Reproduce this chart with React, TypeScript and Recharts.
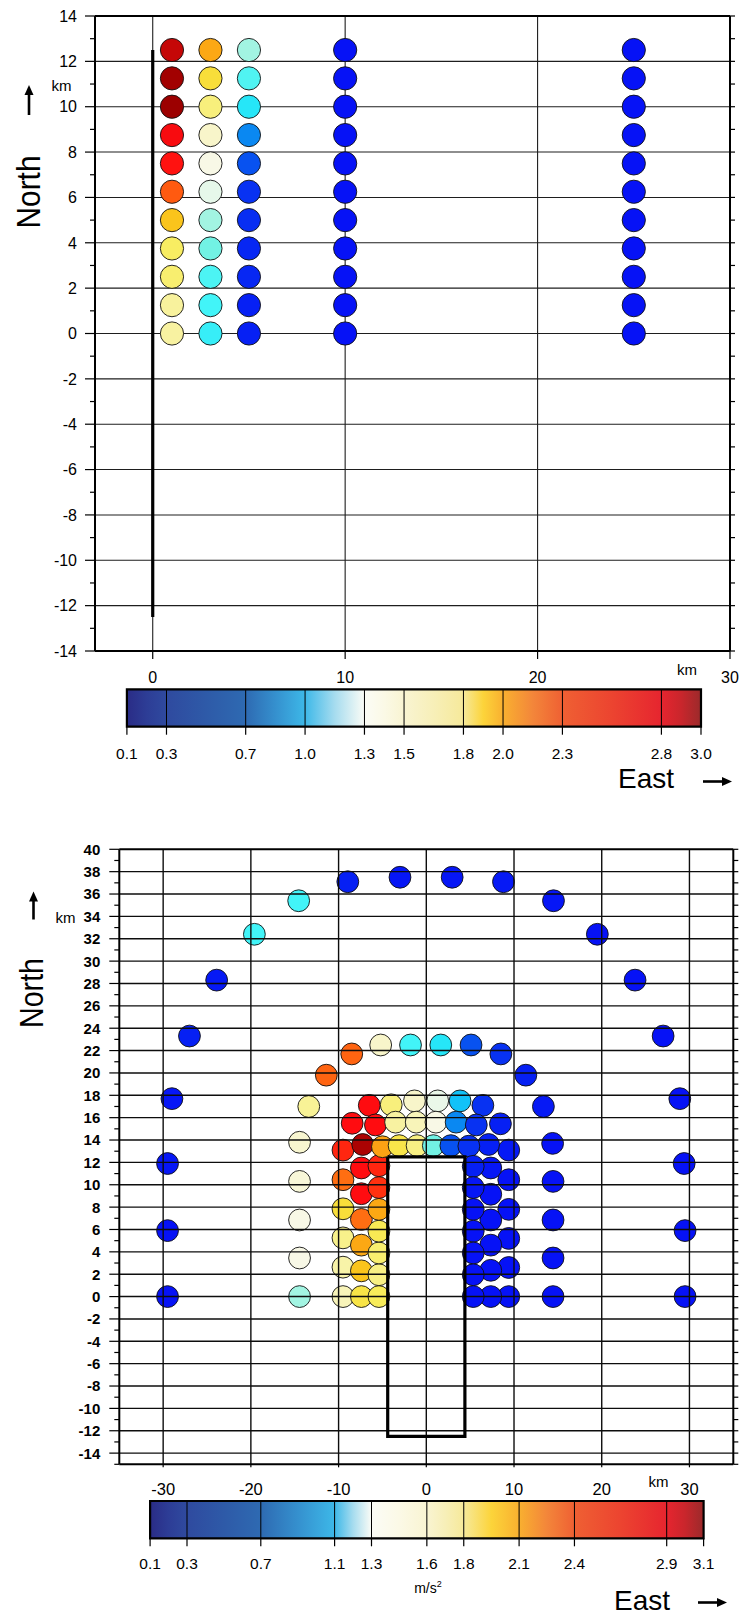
// App.tsx — PGA station maps for a strike-slip fault (two panels + colour bars)
import React from "react";
import { ScatterChart, Scatter, XAxis, YAxis, ReferenceLine, ReferenceArea } from "recharts";

const FONT = '"Liberation Sans", Arial, Helvetica, sans-serif';
const TITLE = '"Liberation Sans", "DejaVu Sans", sans-serif';

// ---------------- upper map: five profiles east of a N-S fault ----------------
const upperEast = [1, 3, 5, 10, 25];
const upperNorth = [0, 1.25, 2.5, 3.75, 5, 6.25, 7.5, 8.75, 10, 11.25, 12.5];
// PGA (m/s2) along each profile, south to north
const upperPgaE1 = [1.62, 1.63, 1.75, 1.78, 2.0, 2.4, 2.68, 2.72, 3.0, 2.98, 2.86];
const upperPgaE3 = [1.08, 1.1, 1.12, 1.2, 1.25, 1.3, 1.4, 1.5, 1.72, 1.9, 2.1];
const upperPgaE5 = [0.3, 0.3, 0.4, 0.4, 0.5, 0.55, 0.72, 0.85, 1.05, 1.13, 1.25];
const upperPgaE10 = [0.1, 0.1, 0.1, 0.1, 0.1, 0.1, 0.1, 0.1, 0.1, 0.1, 0.1];
const upperPgaE25 = [0.1, 0.1, 0.1, 0.1, 0.1, 0.1, 0.1, 0.1, 0.1, 0.1, 0.1];
const upperFaultEast = [0, 0];
const upperFaultNorth = [-12.5, 12.5];
const upperEastTicks = [0, 10, 20, 30];
const upperNorthTicks = [-14, -13, -12, -11, -10, -9, -8, -7, -6, -5, -4, -3, -2, -1, 0, 1, 2, 3, 4, 5, 6, 7, 8, 9, 10, 11, 12, 13, 14];
const upperGridNorth = [-12, -10, -8, -6, -4, -2, 0, 2, 4, 6, 8, 10, 12];
const upperGridEast = [0, 10, 20];

// ---------------- lower map: station rings around the fault ----------------
const ring1East = [-5.4, -5.4, -5.4, -5.4, -5.4, -5.4, -5.4, -5.0, -3.1, -1.05, 0.8, 2.8, 4.85, 5.35, 5.35, 5.35, 5.35, 5.35, 5.35, 5.35];
const ring1North = [0, 1.95, 3.9, 5.85, 7.8, 9.75, 11.7, 13.4, 13.5, 13.5, 13.5, 13.5, 13.45, 11.65, 9.75, 7.8, 5.85, 3.9, 1.95, 0];
const ring1Pga = [1.8, 1.7, 1.75, 1.82, 2.1, 2.58, 2.62, 2.12, 1.85, 1.7, 1.2, 0.72, 0.55, 0.3, 0.15, 0.1, 0.1, 0.1, 0.1, 0.1];

const ring3East = [-7.4, -7.4, -7.4, -7.4, -7.4, -7.4, -7.25, -5.8, -3.5, -1.15, 1.1, 3.4, 5.7, 7.1, 7.35, 7.35, 7.35, 7.35, 7.35, 7.35];
const ring3North = [0, 2.3, 4.6, 6.9, 9.2, 11.5, 13.6, 15.35, 15.6, 15.6, 15.6, 15.6, 15.35, 13.6, 11.5, 9.15, 6.85, 4.6, 2.35, 0];
const ring3Pga = [1.86, 2.0, 2.1, 2.3, 2.7, 2.7, 2.95, 2.7, 1.62, 1.55, 1.4, 0.85, 0.55, 0.3, 0.15, 0.1, 0.1, 0.1, 0.1, 0.1];

const ring5East = [-9.5, -9.5, -9.5, -9.5, -9.5, -9.5, -8.45, -6.5, -4.0, -1.35, 1.3, 3.85, 6.45, 8.45, 9.4, 9.4, 9.4, 9.4, 9.4, 9.4];
const ring5North = [0, 2.63, 5.25, 7.85, 10.45, 13.1, 15.5, 17.1, 17.15, 17.5, 17.5, 17.5, 17.1, 15.45, 13.1, 10.45, 7.8, 5.2, 2.6, 0];
const ring5Pga = [1.55, 1.6, 1.68, 1.9, 2.3, 2.62, 2.7, 2.7, 1.72, 1.5, 1.32, 1.0, 0.55, 0.3, 0.2, 0.1, 0.1, 0.1, 0.1, 0.1];

const ring10East = [-14.45, -14.45, -14.45, -14.45, -14.45, -13.4, -11.4, -8.5, -5.2, -1.8, 1.65, 5.1, 8.5, 11.35, 13.35, 14.4, 14.45, 14.45, 14.45, 14.45];
const ring10North = [0, 3.45, 6.85, 10.3, 13.8, 17.0, 19.8, 21.7, 22.5, 22.5, 22.5, 22.5, 21.7, 19.8, 17.0, 13.7, 10.3, 6.85, 3.45, 0];
const ring10Pga = [1.25, 1.4, 1.4, 1.45, 1.48, 1.65, 2.35, 2.35, 1.5, 1.1, 1.05, 0.72, 0.55, 0.3, 0.2, 0.1, 0.1, 0.1, 0.1, 0.1];

const ring25East = [-29.5, -29.5, -29.5, -29.0, -27.0, -23.9, -19.6, -14.55, -8.95, -3.0, 2.95, 8.8, 14.5, 19.5, 23.8, 27.0, 28.9, 29.4, 29.5, 29.5];
const ring25North = [0, 5.9, 11.9, 17.7, 23.3, 28.3, 32.4, 35.4, 37.1, 37.5, 37.5, 37.1, 35.4, 32.4, 28.3, 23.3, 17.7, 11.9, 5.9, 0];
const ring25Pga = [0.1, 0.1, 0.15, 0.15, 0.3, 0.2, 1.1, 1.1, 0.3, 0.15, 0.15, 0.2, 0.15, 0.1, 0.1, 0.1, 0.1, 0.1, 0.1, 0.1];

const lowerFaultEast = [-4.4, -4.4, 4.4, 4.4, -4.4];
const lowerFaultNorth = [12.5, -12.5, -12.5, 12.5, 12.5];
const lowerEastTicks = [-30, -20, -10, 0, 10, 20, 30];
const lowerNorthTicks = [-15, -14, -13, -12, -11, -10, -9, -8, -7, -6, -5, -4, -3, -2, -1, 0, 1, 2, 3, 4, 5, 6, 7, 8, 9, 10, 11, 12, 13, 14, 15, 16, 17, 18, 19, 20, 21, 22, 23, 24, 25, 26, 27, 28, 29, 30, 31, 32, 33, 34, 35, 36, 37, 38, 39, 40];
const lowerGridNorth = [-14, -12, -10, -8, -6, -4, -2, 0, 2, 4, 6, 8, 10, 12, 14, 16, 18, 20, 22, 24, 26, 28, 30, 32, 34, 36, 38];
const lowerGridEast = [-30, -20, -10, 0, 10, 20, 30];

// ---------------- colour scales ----------------
const upperBarTicks = [0.1, 0.3, 0.7, 1.0, 1.3, 1.5, 1.8, 2.0, 2.3, 2.8, 3.0];
const lowerBarTicks = [0.1, 0.3, 0.7, 1.1, 1.3, 1.6, 1.8, 2.1, 2.4, 2.9, 3.1];
// bar palette, placed by tick index (fractional)
const barStopPos = [0, 0.5, 1, 1.5, 2, 2.5, 3, 3.5, 4, 4.5, 5, 5.5, 6, 6.5, 7, 7.5, 8, 8.5, 9, 9.5, 10];
const barStopColor = ["#2A2C86", "#2D3D96", "#2F4A9F", "#2E5AA8", "#2E6AB2", "#3590CE", "#3DB8E8", "#A6DCEF", "#FBFCF6", "#FBF9E6", "#F9F4D2", "#F7EFB8", "#F6E99A", "#FCD43A", "#F9B030", "#F3863A", "#EF6033", "#EC4430", "#E6252F", "#C9262C", "#9B2A2B"];

// marker palette (value -> fill)
const dotLevels = [0.1, 0.3, 0.55, 0.72, 0.85, 1.0, 1.05, 1.1, 1.2, 1.25, 1.3, 1.4, 1.5, 1.6, 1.7, 1.8, 1.9, 2.0, 2.1, 2.3, 2.4, 2.6, 2.7, 2.85, 3.0];
const dotFills = ["#0612F6", "#0620F4", "#0832F2", "#0852F0", "#0A88F2", "#12C2F8", "#26E6F8", "#42F4F8", "#72F2E4", "#A2F4E2", "#E6F8EA", "#F8F8E6", "#F8F5CA", "#F8F3A8", "#F8F084", "#F8EC5A", "#F8DE3A", "#FAC41C", "#FCA814", "#FF6E12", "#FF5A10", "#FF2C10", "#FF0C10", "#C80808", "#9C0000"];

const rgb = (h: string) => [1, 3, 5].map((i) => parseInt(h.slice(i, i + 2), 16));
function dotColor(v: number) {
  if (v <= dotLevels[0]) return dotFills[0];
  for (let i = 1; i < dotLevels.length; i++) {
    if (v <= dotLevels[i]) {
      const t = (v - dotLevels[i - 1]) / (dotLevels[i] - dotLevels[i - 1]);
      const a = rgb(dotFills[i - 1]);
      const b = rgb(dotFills[i]);
      const c = a.map((ch, k) => Math.round(ch + (b[k] - ch) * t));
      return `rgb(${c[0]},${c[1]},${c[2]})`;
    }
  }
  return dotFills[dotFills.length - 1];
}

const upperProfiles = [upperPgaE1, upperPgaE3, upperPgaE5, upperPgaE10, upperPgaE25];
const upperStations = upperEast.flatMap((e, i) => upperNorth.map((n, j) => ({ x: e, y: n, pga: upperProfiles[i][j] })));
const upperFault = upperFaultEast.map((x, i) => ({ x, y: upperFaultNorth[i] }));

const lowerRings: number[][][] = [
  [ring25East, ring25North, ring25Pga],
  [ring10East, ring10North, ring10Pga],
  [ring5East, ring5North, ring5Pga],
  [ring3East, ring3North, ring3Pga],
  [ring1East, ring1North, ring1Pga],
];
const lowerStations = lowerRings.flatMap(([e, n, p]) => e.map((x, i) => ({ x, y: n[i], pga: p[i] })));
const lowerFault = lowerFaultEast.map((x, i) => ({ x, y: lowerFaultNorth[i] }));

// ---------------- axes ----------------
type Panel = {
  width: number;
  height: number;
  margin: { top: number; right: number; bottom: number; left: number };
  xDomain: [number, number];
  yDomain: [number, number];
  xTicks: number[];
  yTicks: number[];
  leftW: number;
  rightW: number;
  topH: number;
  bottomH: number;
  frame: number;
  xTickLen: number;
  xLabelOff: number;
  xFont: number;
  yGap: number;
  yFont: number;
  yWeight: string;
};

const upperPanel: Panel = {
  width: 744, height: 700,
  margin: { top: 7, right: 0, bottom: 9, left: 35 },
  xDomain: [-3, 30], yDomain: [-14, 14],
  xTicks: upperEastTicks, yTicks: upperNorthTicks,
  leftW: 60, rightW: 14, topH: 9, bottomH: 40,
  frame: 2, xTickLen: 8, xLabelOff: 26, xFont: 16, yGap: 18, yFont: 16, yWeight: "normal",
};

const lowerPanel: Panel = {
  width: 744, height: 700,
  margin: { top: 20.3, right: 0.7, bottom: 15.7, left: 59.3 },
  xDomain: [-35, 35], yDomain: [-15, 40],
  xTicks: lowerEastTicks, yTicks: lowerNorthTicks,
  leftW: 60, rightW: 10, topH: 9, bottomH: 40,
  frame: 2, xTickLen: 3, xLabelOff: 25, xFont: 16.5, yGap: 19, yFont: 15, yWeight: "bold",
};

const tickText = { fontFamily: FONT, fill: "#000" };

const leftTick = (p: Panel) => (props: any) => {
  const { x, y, payload } = props;
  const v = payload.value;
  const major = v % 2 === 0;
  return (
    <g>
      <line x1={x - (major ? 10 : 5)} y1={y} x2={x} y2={y} stroke="#000" strokeWidth={1.2} />
      {major && (
        <text x={x - p.yGap} y={y} dy="0.36em" textAnchor="end" fontSize={p.yFont} fontWeight={p.yWeight} {...tickText}>
          {v}
        </text>
      )}
    </g>
  );
};

const rightTick = (props: any) => (
  <line x1={props.x} y1={props.y} x2={props.x + 5} y2={props.y} stroke="#000" strokeWidth={1.2} />
);

const topTick = (props: any) => (
  <line x1={props.x} y1={props.y - 9} x2={props.x} y2={props.y} stroke="#000" strokeWidth={1.2} />
);

const bottomTick = (p: Panel) => (props: any) => {
  const { x, y, payload } = props;
  return (
    <g>
      <line x1={x} y1={y} x2={x} y2={y + p.xTickLen} stroke="#000" strokeWidth={1.2} />
      <text x={x} y={y + p.xLabelOff} dy="0.36em" textAnchor="middle" fontSize={p.xFont} {...tickText}>
        {payload.value}
      </text>
    </g>
  );
};

function panelAxes(p: Panel, visible: boolean) {
  const line = visible ? { stroke: "#000", strokeWidth: p.frame } : false;
  const common = { type: "number" as const, allowDataOverflow: true, interval: 0 as const, tickSize: 0, tickMargin: 0, tickLine: false };
  return [
    <XAxis key="xb" {...common} dataKey="x" domain={p.xDomain} ticks={p.xTicks} height={p.bottomH} axisLine={line} tick={visible ? bottomTick(p) : false} />,
    <XAxis key="xt" {...common} xAxisId="t" orientation="top" domain={p.xDomain} ticks={p.xTicks} height={p.topH} axisLine={line} tick={visible ? topTick : false} />,
    <YAxis key="yl" {...common} dataKey="y" domain={p.yDomain} ticks={p.yTicks} width={p.leftW} axisLine={line} tick={visible ? leftTick(p) : false} />,
    <YAxis key="yr" {...common} yAxisId="r" orientation="right" domain={p.yDomain} ticks={p.yTicks} width={p.rightW} axisLine={line} tick={visible ? rightTick : false} />,
  ];
}

const station = (r: number) => (props: any) => (
  <circle cx={props.cx} cy={props.cy} r={r} fill={dotColor(props.payload.pga)} stroke="#111" strokeWidth={0.9} />
);
const noMarker = () => <g />;

const layer: React.CSSProperties = { position: "absolute", left: 0 };

function UpperMap() {
  const p = upperPanel;
  return (
    <>
      {/* grid sits under the stations */}
      <div style={{ ...layer, top: 0 }}>
        <ScatterChart width={p.width} height={p.height} margin={p.margin}>
          {panelAxes(p, false)}
          {upperGridNorth.map((v) => (
            <ReferenceLine key={`h${v}`} y={v} stroke="#1e1e1e" strokeWidth={1.1} />
          ))}
          {upperGridEast.map((v) => (
            <ReferenceLine key={`v${v}`} x={v} stroke="#1e1e1e" strokeWidth={1.1} />
          ))}
          <Scatter data={[]} isAnimationActive={false} />
        </ScatterChart>
      </div>
      <div style={{ ...layer, top: 0 }}>
        <ScatterChart width={p.width} height={p.height} margin={p.margin}>
          {panelAxes(p, true)}
          <Scatter data={upperFault} line={{ stroke: "#000", strokeWidth: 3.2 }} shape={noMarker} isAnimationActive={false} />
          <Scatter data={upperStations} shape={station(11.6)} isAnimationActive={false} />
        </ScatterChart>
      </div>
    </>
  );
}

function LowerMap() {
  const p = lowerPanel;
  return (
    <>
      <div style={{ ...layer, top: 820 }}>
        <ScatterChart width={p.width} height={p.height} margin={p.margin}>
          {panelAxes(p, false)}
          <Scatter data={lowerStations} shape={station(10.9)} isAnimationActive={false} />
        </ScatterChart>
      </div>
      {/* grid, frame and fault outline drawn over the stations */}
      <div style={{ ...layer, top: 820 }}>
        <ScatterChart width={p.width} height={p.height} margin={p.margin}>
          {panelAxes(p, true)}
          {lowerGridNorth.map((v) => (
            <ReferenceLine key={`h${v}`} y={v} stroke="#0d0d0d" strokeWidth={1.4} />
          ))}
          {lowerGridEast.map((v) => (
            <ReferenceLine key={`v${v}`} x={v} stroke="#0d0d0d" strokeWidth={1.4} />
          ))}
          <Scatter data={lowerFault} line={{ stroke: "#000", strokeWidth: 3.2 }} shape={noMarker} isAnimationActive={false} />
        </ScatterChart>
      </div>
    </>
  );
}

function ColorBar({ id, ticks, top, height, margin, labelOff }: { id: string; ticks: number[]; top: number; height: number; margin: { top: number; right: number; bottom: number; left: number }; labelOff: number }) {
  const lo = ticks[0];
  const hi = ticks[ticks.length - 1];
  const offsetAt = (pos: number) => {
    const i = Math.min(Math.floor(pos), ticks.length - 2);
    const v = ticks[i] + (pos - i) * (ticks[i + 1] - ticks[i]);
    return (v - lo) / (hi - lo);
  };
  const tick = (props: any) => (
    <g>
      <line x1={props.x} y1={props.y} x2={props.x} y2={props.y + 8} stroke="#000" strokeWidth={1.2} />
      <text x={props.x} y={props.y + labelOff} dy="0.36em" textAnchor="middle" fontSize={15.5} fontFamily={FONT} fill="#000">
        {props.payload.value.toFixed(1)}
      </text>
    </g>
  );
  return (
    <div style={{ ...layer, top }}>
      <ScatterChart width={744} height={height} margin={margin}>
        <defs>
          <linearGradient id={id} x1="0" y1="0" x2="1" y2="0">
            {barStopPos.map((pos, i) => (
              <stop key={pos} offset={offsetAt(pos)} stopColor={barStopColor[i]} />
            ))}
          </linearGradient>
        </defs>
        <XAxis type="number" dataKey="x" domain={[lo, hi]} ticks={ticks} interval={0} height={40} tickSize={0} tickMargin={0} axisLine={false} tickLine={false} tick={tick} allowDataOverflow />
        <YAxis type="number" dataKey="y" domain={[0, 1]} hide allowDataOverflow />
        <ReferenceArea x1={lo} x2={hi} y1={0} y2={1} fill={`url(#${id})`} fillOpacity={1} stroke="#000" strokeWidth={2.2} />
        {ticks.slice(1, -1).map((t) => (
          <ReferenceLine key={t} x={t} stroke="#000" strokeWidth={1} />
        ))}
        <Scatter data={[]} isAnimationActive={false} />
      </ScatterChart>
    </div>
  );
}

function ArrowUp({ x, tip, tail }: { x: number; tip: number; tail: number }) {
  return (
    <g>
      <line x1={x} y1={tip + 7} x2={x} y2={tail} stroke="#000" strokeWidth={2.6} />
      <polygon points={`${x - 4.5},${tip + 10} ${x + 4.5},${tip + 10} ${x},${tip}`} fill="#000" />
    </g>
  );
}

function ArrowRight({ y, tail, tip }: { y: number; tail: number; tip: number }) {
  return (
    <g>
      <line x1={tail} y1={y} x2={tip - 7} y2={y} stroke="#000" strokeWidth={2.6} />
      <polygon points={`${tip - 10},${y - 4.5} ${tip - 10},${y + 4.5} ${tip},${y}`} fill="#000" />
    </g>
  );
}

function Annotations() {
  const small = { fontFamily: FONT, fill: "#000", textAnchor: "middle" as const };
  const big = { fontFamily: TITLE, fill: "#000", textAnchor: "middle" as const, lengthAdjust: "spacingAndGlyphs" as const };
  return (
    <svg width={744} height={1615} style={{ position: "absolute", left: 0, top: 0, pointerEvents: "none" }}>
      {/* upper map */}
      <text transform="translate(28,192) rotate(-90)" dy="0.36em" fontSize={34} textLength={73} {...big}>North</text>
      <ArrowUp x={29} tip={85} tail={115} />
      <text x={61.5} y={86} dy="0.36em" fontSize={15} {...small}>km</text>
      <text x={687} y={670} dy="0.36em" fontSize={15} {...small}>km</text>
      <text x={646} y={778} dy="0.36em" fontSize={28} textLength={56} {...big}>East</text>
      <ArrowRight y={781.5} tail={703} tip={732} />

      {/* lower map */}
      <text transform="translate(31,993) rotate(-90)" dy="0.36em" fontSize={34} textLength={70} {...big}>North</text>
      <ArrowUp x={33.5} tip={891.5} tail={919.5} />
      <text x={65.5} y={918} dy="0.36em" fontSize={15} {...small}>km</text>
      <text x={658.5} y={1481.5} dy="0.36em" fontSize={15} {...small}>km</text>
      <text x={428} y={1588} dy="0.36em" fontSize={14} {...small}>
        m/s<tspan fontSize={9} dy={-6}>2</tspan>
      </text>
      <text x={642} y={1600} dy="0.36em" fontSize={28} textLength={56} {...big}>East</text>
      <ArrowRight y={1602.5} tail={698} tip={727} />
    </svg>
  );
}

export default function App() {
  return (
    <div style={{ position: "absolute", left: 0, top: 0, width: 744, height: 1615, background: "#fff", overflow: "hidden" }}>
      <UpperMap />
      <ColorBar id="cbUpper" ticks={upperBarTicks} top={660} height={120} margin={{ top: 29.3, right: 43, bottom: 13.3, left: 126.9 }} labelOff={26.3} />
      <LowerMap />
      <ColorBar id="cbLower" ticks={lowerBarTicks} top={1470} height={145} margin={{ top: 31, right: 40.4, bottom: 36.7, left: 150.1 }} labelOff={24.7} />
      <Annotations />
    </div>
  );
}
